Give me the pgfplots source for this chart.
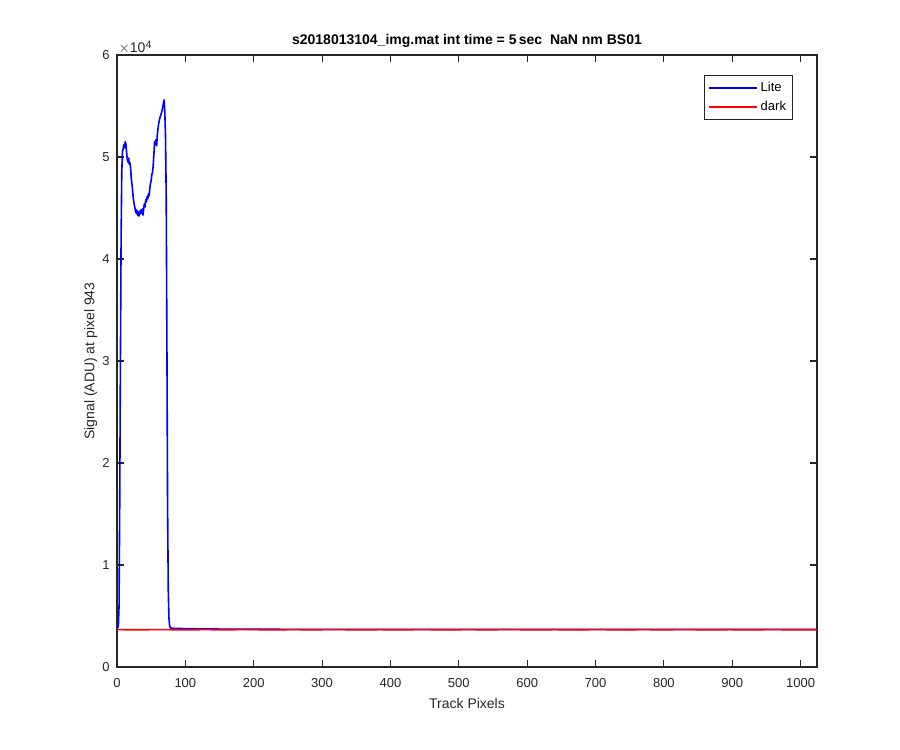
\documentclass[border=0pt]{standalone}
\usepackage{fontspec}
\setmainfont{Liberation Sans}
\usepackage{pgfplots}
\pgfplotsset{compat=1.18}
\definecolor{axgray}{rgb}{0.15,0.15,0.15}
\begin{document}
\begin{tikzpicture}
\useasboundingbox (-87.75pt,-62.25pt) rectangle (587.25pt,500.25pt);
\begin{axis}[
  at={(0,0)}, anchor=south west,
  scale only axis,
  width=525pt, height=459pt,
  xmin=0, xmax=1024, ymin=0, ymax=60000,
  clip mode=individual,
  xtick={0,100,...,1000},
  ytick={0,10000,20000,30000,40000,50000,60000},
  yticklabels={0,1,2,3,4,5,6},
  scaled y ticks=false,
  tick align=inside,
  major tick length=5pt,
  axis line style={axgray, line width=0.9pt},
  every tick/.style={axgray, line width=0.8pt},
  tick label style={font=\fontsize{9.75}{11}\selectfont, text=axgray},
  xticklabel style={yshift=-5pt},
  yticklabel style={xshift=-2pt},
  /pgf/number format/assume math mode=true,
  /pgf/number format/1000 sep={},
  xlabel={Track Pixels},
  ylabel={Signal (ADU) at pixel 943},
  label style={font=\fontsize{10.5}{12}\selectfont, text=axgray},
  xlabel style={yshift=-1pt},
  ylabel style={yshift=-3pt},
  title={s2018013104\_img.mat int time = 5\,sec\ \ NaN nm BS01},
  title style={font=\bfseries\fontsize{10.5}{12}\selectfont, yshift=-4pt},
  legend style={at={(0.966,0.967)}, anchor=north east, draw=axgray,
    line width=0.8pt, font=\fontsize{9.75}{11}\selectfont,
    inner xsep=3pt, inner ysep=3pt, row sep=1.5pt},
  legend cell align=left,
  legend image code/.code={\draw[#1, line width=1.2pt] (0pt,0pt) -- (36pt,0pt);},
]
\addplot[color=blue, line width=1.2pt, line join=round] coordinates {
(0,3800) (1,3850) (2,4000) (3,6000) (4,16000) (5,30000) (6,42000) (7,48500)
(8,50500) (9,50800) (10,51200) (11,50900) (12,51500) (13,51300) (14,50500)
(15,49800) (16,49500) (17,49900) (18,49300) (19,49400) (20,48800) (21,47800)
(22,47300) (23,46600) (24,45900) (25,45400) (26,45100) (27,44700) (28,44500)
(29,44800) (30,44300) (31,44600) (32,44200) (33,44700) (34,44400) (35,44800)
(36,44500) (37,44900) (38,44300) (39,44900) (40,45400) (41,45100) (42,45800)
(43,45600) (44,46100) (45,45900) (46,46400) (47,46200) (48,46900) (49,47400)
(50,47700) (51,48300) (52,48500) (53,49200) (54,50300) (55,51500) (56,51200)
(57,51700) (58,51100) (59,52200) (60,52800) (61,53300) (62,53600) (63,53900)
(64,54100) (65,54300) (66,54600) (67,54900) (68,55300) (69,55600) (70,54300)
(71,52000) (72,46000) (73,32000) (74,16000) (75,7500) (76,4800) (77,4000)
(78,3850) (80,3800) (90,3780) (100,3760) (120,3740) (150,3720) (200,3700)
(300,3690) (400,3690) (500,3690) (600,3690) (700,3690) (800,3690) (900,3690)
(1024,3690)
};
\addlegendentry{Lite}
\addplot[color=red, line width=1.2pt, line join=round] coordinates {
(0,3660) (32,3650) (64,3665) (96,3645) (128,3660) (160,3650) (192,3665)
(224,3648) (256,3660) (288,3652) (320,3664) (352,3648) (384,3658) (416,3650)
(448,3662) (480,3648) (512,3660) (544,3652) (576,3664) (608,3648) (640,3658)
(672,3650) (704,3662) (736,3648) (768,3660) (800,3652) (832,3664) (864,3648)
(896,3658) (928,3650) (960,3662) (992,3648) (1024,3656)
};
\addlegendentry{dark}
\node[anchor=south west, text=axgray, font=\fontsize{10.5}{12}\selectfont, inner sep=1pt]
  at (rel axis cs:0,1) {$\times$10\raisebox{0.55ex}{\fontsize{8}{9}\selectfont 4}};
\end{axis}
\end{tikzpicture}
\end{document}
